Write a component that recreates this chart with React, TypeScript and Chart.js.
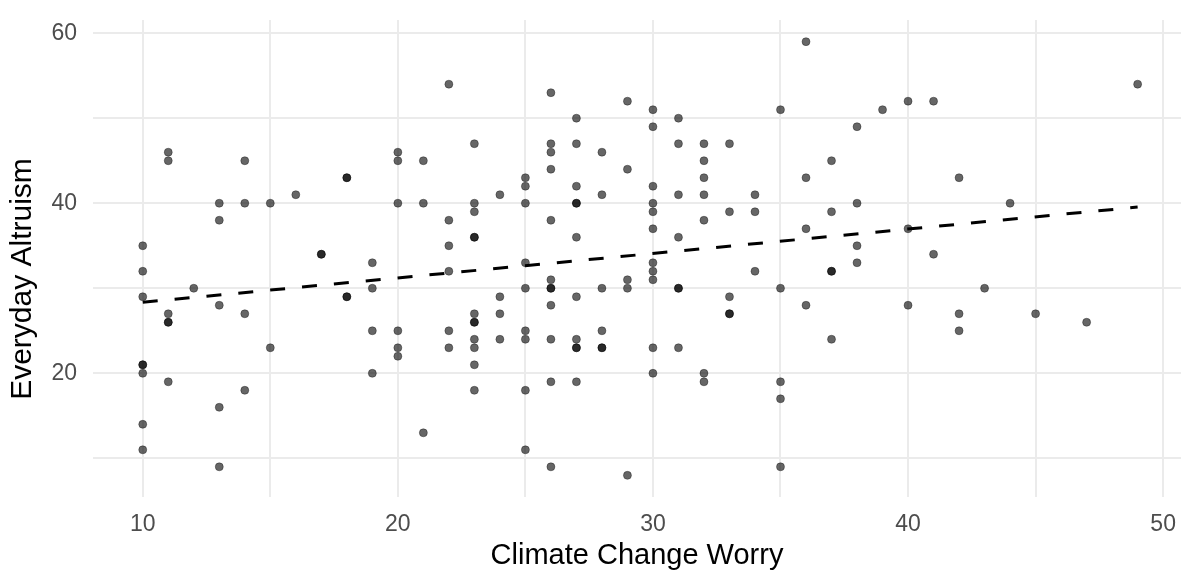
import React, { useEffect, useRef } from "react";
import { Chart, registerables } from "chart.js";

Chart.register(...registerables);

// Climate Change Worry (x) for each respondent
const climateWorry: number[] = [
  10, 10, 10, 10, 10, 10, 10, 10,
  11, 11, 11, 11, 11, 11,
  12,
  13, 13, 13, 13, 13,
  14, 14, 14, 14,
  15, 15,
  16,
  17, 17,
  18, 18, 18, 18,
  19, 19, 19, 19,
  20, 20, 20, 20, 20, 20,
  21, 21, 21,
  22, 22, 22, 22, 22, 22,
  23, 23, 23, 23, 23, 23, 23, 23, 23, 23, 23, 23,
  24, 24, 24, 24,
  25, 25, 25, 25, 25, 25, 25, 25, 25,
  26, 26, 26, 26, 26, 26, 26, 26, 26, 26, 26, 26,
  27, 27, 27, 27, 27, 27, 27, 27, 27, 27, 27,
  28, 28, 28, 28, 28, 28,
  29, 29, 29, 29, 29,
  30, 30, 30, 30, 30, 30, 30, 30, 30, 30, 30,
  31, 31, 31, 31, 31, 31, 31,
  32, 32, 32, 32, 32, 32, 32,
  33, 33, 33, 33, 33,
  34, 34, 34,
  35, 35, 35, 35, 35,
  36, 36, 36, 36,
  37, 37, 37, 37, 37,
  38, 38, 38, 38,
  39,
  40, 40, 40,
  41, 41,
  42, 42, 42,
  43,
  44,
  45,
  47,
  49,
];

// Everyday Altruism (y) for each respondent, same order as above
const everydayAltruism: number[] = [
  35, 32, 29, 21, 21, 20, 14, 11,
  46, 45, 27, 26, 26, 19,
  30,
  40, 38, 28, 16, 9,
  45, 40, 27, 18,
  40, 23,
  41,
  34, 34,
  43, 43, 29, 29,
  33, 30, 25, 20,
  46, 45, 40, 25, 23, 22,
  45, 40, 13,
  54, 38, 35, 32, 25, 23,
  47, 40, 39, 36, 36, 27, 26, 26, 24, 23, 21, 18,
  41, 29, 27, 24,
  43, 42, 40, 33, 30, 25, 24, 18, 11,
  53, 47, 46, 44, 38, 31, 30, 30, 28, 24, 19, 9,
  50, 47, 42, 40, 40, 36, 29, 24, 23, 23, 19,
  46, 41, 30, 25, 23, 23,
  52, 44, 31, 30, 8,
  51, 49, 42, 40, 39, 37, 33, 32, 31, 23, 20,
  50, 47, 41, 36, 30, 30, 23,
  47, 45, 43, 41, 38, 20, 19,
  47, 39, 29, 27, 27,
  41, 39, 32,
  51, 30, 19, 17, 9,
  59, 43, 37, 28,
  45, 39, 32, 32, 24,
  49, 40, 35, 33,
  51,
  52, 37, 28,
  52, 34,
  43, 27, 25,
  30,
  40,
  27,
  26,
  54,
];

// Linear trend line (dashed) endpoints
const trendX: number[] = [10, 49];
const trendY: number[] = [28.35, 39.55];

const xTickLabels: number[] = [10, 20, 30, 40, 50];
const yTickLabels: number[] = [20, 40, 60];

const xTitle = "Climate Change Worry";
const yTitle = "Everyday Altruism";

const FONT = "'Liberation Sans', Arial, Helvetica, sans-serif";

// Draws the y-axis title where the reference places it
const yTitlePlugin = {
  id: "yTitlePlugin",
  afterDraw(chart: any) {
    const ctx = chart.ctx;
    ctx.save();
    ctx.translate(23, 279);
    ctx.rotate(-Math.PI / 2);
    ctx.font = `30px ${FONT}`;
    ctx.fillStyle = "#000000";
    ctx.textAlign = "center";
    ctx.textBaseline = "middle";
    ctx.fillText(yTitle, 0, 0);
    ctx.restore();
  },
};

export default function App() {
  const canvasRef = useRef<HTMLCanvasElement | null>(null);

  useEffect(() => {
    if (!canvasRef.current) return;
    const points = climateWorry.map((x, i) => ({ x, y: everydayAltruism[i] }));
    const trend = trendX.map((x, i) => ({ x, y: trendY[i] }));

    const chart = new Chart(canvasRef.current, {
      type: "scatter",
      data: {
        datasets: [
          {
            type: "scatter",
            label: "Trend",
            data: trend,
            showLine: true,
            borderColor: "#000000",
            borderWidth: 3,
            borderDash: [15, 17],
            pointRadius: 0,
            order: 0,
          } as any,
          {
            label: "Respondents",
            data: points,
            pointRadius: 4,
            pointBackgroundColor: "rgba(0,0,0,0.6)",
            pointBorderColor: "rgba(0,0,0,0.35)",
            pointBorderWidth: 1,
            order: 1,
          },
        ],
      },
      options: {
        responsive: false,
        animation: false,
        layout: { autoPadding: false, padding: { top: 20, left: 0, right: 0, bottom: 0 } },
        plugins: {
          legend: { display: false },
          tooltip: { enabled: false },
        },
        scales: {
          x: {
            type: "linear",
            min: 8.05,
            max: 50.7,
            border: { display: false },
            grid: { color: "#ebebeb", lineWidth: 2, drawTicks: false },
            ticks: {
              stepSize: 5,
              includeBounds: false,
              padding: 14,
              color: "#4d4d4d",
              font: { family: FONT, size: 23, lineHeight: 1.2 },
              maxRotation: 0,
              autoSkip: false,
              callback: (v: any) => (xTickLabels.includes(Number(v)) ? String(v) : ""),
            },
            title: {
              display: true,
              text: xTitle,
              color: "#000000",
              font: { family: FONT, size: 29, lineHeight: 1.2 },
              padding: { top: 0, bottom: 2 },
            },
            afterFit: (scale: any) => {
              scale.height = 78;
              scale.paddingLeft = 0;
              scale.paddingRight = 0;
            },
          },
          y: {
            type: "linear",
            min: 5.45,
            max: 61.55,
            border: { display: false },
            grid: { color: "#ebebeb", lineWidth: 2, drawTicks: false },
            ticks: {
              stepSize: 10,
              includeBounds: false,
              padding: 16,
              color: "#4d4d4d",
              font: { family: FONT, size: 23, lineHeight: 1.2 },
              autoSkip: false,
              callback: (v: any) => (yTickLabels.includes(Number(v)) ? String(v) : ""),
            },
            title: { display: false, text: yTitle },
            afterFit: (scale: any) => {
              scale.width = 93;
              scale.paddingTop = 0;
              scale.paddingBottom = 0;
            },
          },
        },
      },
      plugins: [yTitlePlugin],
    });
    return () => chart.destroy();
  }, []);

  return (
    <div style={{ position: "absolute", left: 0, top: 0, width: 1181, height: 575, background: "#ffffff" }}>
      <canvas ref={canvasRef} width={1181} height={575} style={{ display: "block" }} />
    </div>
  );
}
